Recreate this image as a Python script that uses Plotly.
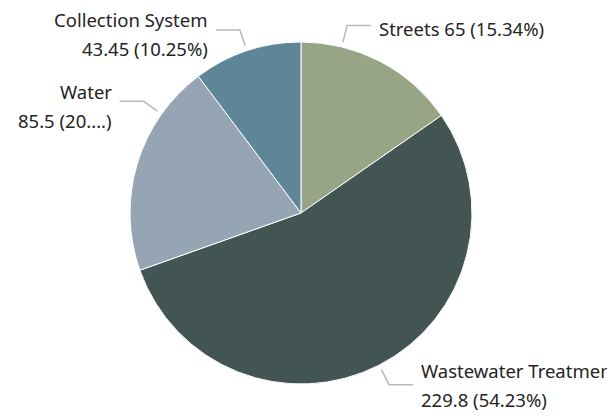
import math
import plotly.graph_objects as go

# ---- data ----
categories = ["Streets", "Wastewater Treatment", "Water", "Collection System"]
values = [65, 229.8, 85.5, 43.45]
# labels as displayed (truncated by the original chart)
label_lines = [
    ["Streets 65 (15.34%)"],
    ["Wastewater Treatmen", "229.8 (54.23%)"],
    ["Water", "85.5 (20....)"],
    ["Collection System", "43.45 (10.25%)"],
]
colors = ["#97a586", "#425553", "#95a5b3", "#5e8698"]

# ---- layout constants (pixels, window coordinates) ----
W, H = 615, 419
OFF = 8            # page body margin
cx, cy, R = 301, 213, 171
FS = 18.5
FONT = "Noto Sans"
LINE_GAP = 29
angle_shift = [-13.8, 0, 18.6, 0]           # label collision adjustments
baseline_off = [10.1, -7.3, -2.2, -3.3]       # first baseline relative to leader y
r1, r2, hlen, gap = 176, 193, 24, 6

def px(x):
    return (x - OFF) / W

def py(y):
    return 1 - (y - OFF) / H

fig = go.Figure(go.Pie(
    labels=categories, values=values, sort=False, direction="clockwise",
    rotation=0, textinfo="none", hoverinfo="label+value+percent",
    marker=dict(colors=colors, line=dict(color="white", width=1)),
    domain=dict(x=[px(cx - R), px(cx + R)], y=[py(cy + R), py(cy - R)]),
    showlegend=False,
))

total = sum(values)
shapes, annotations = [], []
cum = 0
for i, v in enumerate(values):
    mid = (cum + v / 2) / total * 360
    cum += v
    th = math.radians(mid + angle_shift[i])
    s, c = math.sin(th), math.cos(th)
    side = 1 if s >= 0 else -1
    x1, y1 = cx + r1 * s, cy - r1 * c
    x2, y2 = cx + r2 * s, cy - r2 * c
    x3 = x2 + side * hlen
    shapes.append(dict(type="path", xref="paper", yref="paper",
                       path=f"M {px(x1)} {py(y1)} L {px(x2)} {py(y2)} L {px(x3)} {py(y2)}",
                       line=dict(color="#b8b8b8", width=1.5)))
    tx = x3 + side * gap
    for j, line in enumerate(label_lines[i]):
        base = y2 + baseline_off[i] + j * LINE_GAP
        ycen = base - 0.388 * FS
        annotations.append(dict(
            x=px(tx), y=py(ycen), xref="paper", yref="paper",
            text=line, showarrow=False,
            xanchor="left" if side > 0 else "right", yanchor="middle",
            align="left" if side > 0 else "right",
            font=dict(family=FONT, size=FS, color="#252423"),
        ))

fig.update_layout(
    width=W, height=H,
    margin=dict(l=0, r=0, t=0, b=0, pad=0, autoexpand=False),
    paper_bgcolor="white", plot_bgcolor="white",
    shapes=shapes, annotations=annotations,
)
fig.write_html("out.html")
